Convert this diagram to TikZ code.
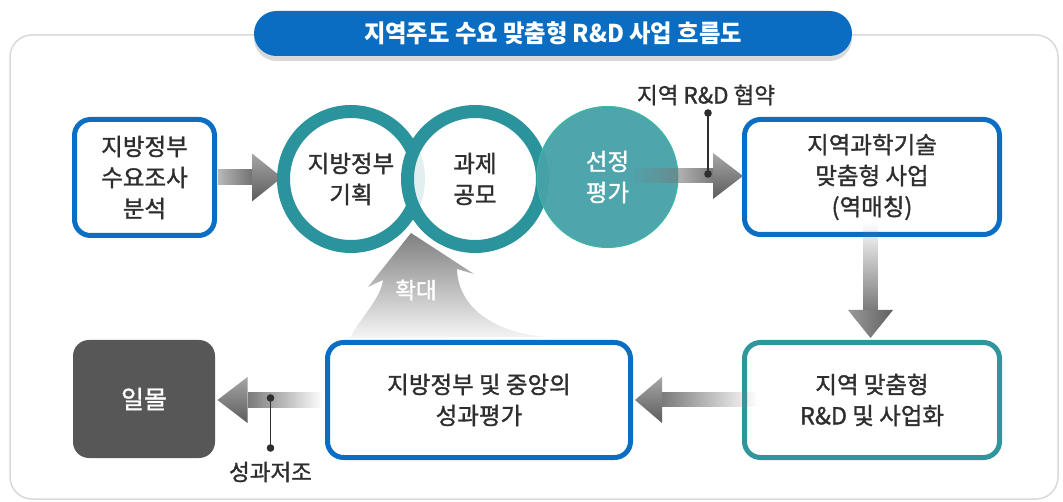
\documentclass[tikz,border=0pt]{standalone}
\usepackage{fontspec}
\setmainfont{Noto Sans CJK KR}[FakeBold=1.3]
\newfontfamily\titlefont{Noto Sans CJK KR}[FakeStretch=0.95]
\usetikzlibrary{calc,shadows,fadings}
\definecolor{bluebd}{HTML}{0A6EC4}
\definecolor{titleblue}{HTML}{0A6DC2}
\definecolor{ringc}{HTML}{2B939B}
\definecolor{tealbd}{HTML}{2F969E}
\definecolor{c3fill}{HTML}{47A1A8}
\definecolor{c3edge}{HTML}{3DB8A0}
\definecolor{darkbox}{HTML}{575757}
\definecolor{txt}{HTML}{2E2E2E}
\tikzfading[name=fadeE, left color=transparent!100, right color=transparent!0]
\tikzfading[name=fadeW, left color=transparent!0, right color=transparent!100]
\tikzfading[name=fadeS, top color=transparent!100, bottom color=transparent!0]
\begin{document}
\begin{tikzpicture}[x=1pt,y=-1pt,
  frame/.style={draw=gray!30, line width=1.5pt, rounded corners=22pt, inner sep=0pt,
    minimum width=1048pt, minimum height=464pt},
  pill/.style={fill=titleblue, rounded corners=22.5pt, inner sep=0pt, text=white,
    minimum width=598pt, minimum height=45pt, font=\titlefont\fontsize{24.5}{28}\selectfont\bfseries,
    drop shadow={shadow xshift=0pt, shadow yshift=-5pt, opacity=0.3}},
  box/.style={draw=bluebd, line width=5pt, rounded corners=16pt, fill=white, align=center,
    text=txt, inner sep=0pt, font=\fontsize{23.5}{31}\selectfont},
  ring/.style={circle, draw=ringc, line width=13pt, minimum size=135pt, inner sep=0pt,
    align=center, text=txt, font=\fontsize{23.5}{31}\selectfont},
  lbl/.style={text=txt, inner sep=0pt, font=\fontsize{22.5}{26}\selectfont},
  shaftfill/.style={fill=black!52},
  headh/.style={top color=black!35, bottom color=black!64},
  tick/.style={draw=txt, line width=1.4pt},
  dot/.style={fill=txt}
]
\useasboundingbox (0,0) rectangle (1063,502);

% frame and title
\node[frame] (frame) at (534,267) {};
\node[pill] (title) at (553,33.5) {지역주도 수요 맞춤형 R\&D 사업 흐름도};

% boxes
\node[box, minimum width=140pt, minimum height=116pt] (b1) at (144.5,177.5) {지방정부\\수요조사\\분석};
\node[box, minimum width=255pt, minimum height=115pt] (b2) at (872,177) {지역과학기술\\맞춤형 사업\\(역매칭)};
\node[box, draw=tealbd, minimum width=255pt, minimum height=115pt] (b3) at (872,400) {지역 맞춤형\\R\&D 및 사업화};
\node[box, minimum width=303pt, minimum height=115pt] (b4) at (479,400) {지방정부 및 중앙의\\성과평가};
\node[box, draw=none, fill=darkbox, text=white, minimum width=142pt, minimum height=118pt,
  font=\fontsize{25}{30}\selectfont] (b5) at (144,399) {일몰};

% expansion arrow (확대)
\shade[top color=black!50, bottom color=black!4]
  (411,233) -- (474,274) -- (457,269)
  .. controls (458,305) and (490,332) .. (546,337)
  -- (350,338)
  .. controls (362,315) and (380,300) .. (383,280)
  -- (368,287) -- cycle;
\node[lbl, text=white] (expand) at (416,290) {확대};

% arrow b1 -> c1
\coordinate (c1pos) at (351,179);
\coordinate (a1s) at (b1.east);
\coordinate (a1e) at ($(c1pos)+(-69,-1.5)$);
\shade[left color=black!28, right color=black!55]
  ($(a1s|-a1e)+(1,-7.5)$) rectangle ($(a1e)+(-30,7.5)$);
\shade[headh] ($(a1e)+(-30,-24)$) -- (a1e) -- ($(a1e)+(-30,24)$) -- cycle;

% circles
\node[ring] (c1) at (c1pos) {지방정부\\기획};
\node[ring, fill=white, fill opacity=0.86, text opacity=1, draw opacity=1] (c2) at (475,179) {과제\\공모};
\node[circle, fill=c3fill, fill opacity=0.96, text opacity=1, draw=c3edge, line width=1pt,
  minimum size=141pt, inner sep=0pt, align=center, text=white,
  font=\fontsize{23.5}{31}\selectfont] (c3) at (607.5,177) {선정\\평가};

% arrow c3 -> b2
\coordinate (a2e) at ($(b2.west)+(1,-1)$);
\fill[shaftfill, path fading=fadeE] ($(c3.center|-a2e)+(22,-7.5)$) rectangle ($(a2e)+(-30,7.5)$);
\shade[headh] ($(a2e)+(-30,-23)$) -- (a2e) -- ($(a2e)+(-30,23)$) -- cycle;
\coordinate (t1) at ($(a2e)+(-35,-2)$);
\coordinate (t1top) at ($(t1)+(0,-61)$);
\draw[tick] (t1) -- (t1top);
\fill[dot] (t1) circle (3.8);
\fill[dot] (t1top) circle (3.8);
\node[lbl] (agree) at ($(t1top)+(-2,-18)$) {지역 R\&D 협약};

% arrow b2 -> b3
\coordinate (a3e) at ($(b3.north)+(-1.5,-2)$);
\fill[shaftfill, path fading=fadeS] ($(b2.south-|a3e)+(-7.5,-15)$) rectangle ($(a3e)+(7.5,-28)$);
\shade[left color=black!40, right color=black!62] ($(a3e)+(-22.5,-28)$) -- (a3e) -- ($(a3e)+(22.5,-28)$) -- cycle;

% arrow b3 -> b4
\coordinate (a4e) at ($(b4.east)+(2,0)$);
\fill[shaftfill, path fading=fadeW] ($(a4e)+(27,-7.5)$) rectangle ($(b3.west|-a4e)+(15,7.5)$);
\shade[headh] ($(a4e)+(27,-23)$) -- (a4e) -- ($(a4e)+(27,23)$) -- cycle;

% arrow b4 -> b5
\coordinate (a5e) at ($(b5.east)+(0,1)$);
\fill[shaftfill, path fading=fadeW] ($(a5e)+(30,-8)$) rectangle ($(b4.west|-a5e)+(-2,8)$);
\shade[headh] ($(a5e)+(30,-23)$) -- (a5e) -- ($(a5e)+(30,23)$) -- cycle;
\coordinate (t2) at ($(a5e)+(53,-2)$);
\coordinate (t2bot) at ($(t2)+(0,50)$);
\draw[tick] (t2) -- (t2bot);
\fill[dot] (t2) circle (3.8);
\fill[dot] (t2bot) circle (3.8);
\node[lbl] (poor) at ($(t2bot)+(0,24)$) {성과저조};
\end{tikzpicture}
\end{document}
